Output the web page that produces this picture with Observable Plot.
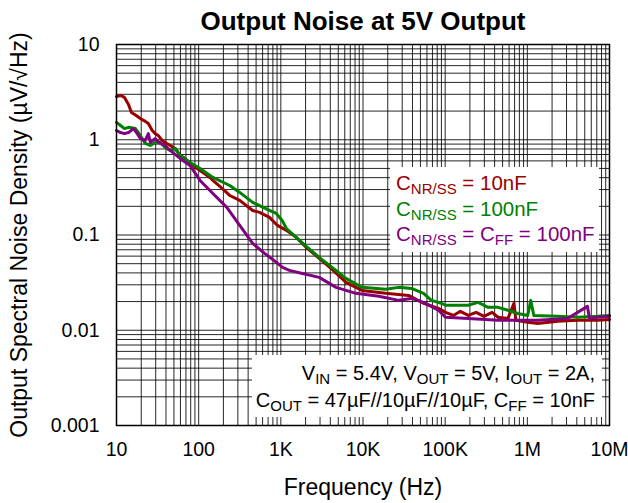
<!DOCTYPE html>
<html>
<head>
<meta charset="utf-8">
<script src="https://cdn.jsdelivr.net/npm/d3@7"></script>
<script src="https://cdn.jsdelivr.net/npm/@observablehq/plot@0.6"></script>
<style>
  html, body { margin: 0; padding: 0; background: #fff; }
  #wrap { position: relative; width: 628px; height: 503px; font-family: "Liberation Sans", Arial, sans-serif; }
  .box { position: absolute; background: #fff; font-family: "Liberation Sans", Arial, sans-serif; white-space: nowrap; }
  .box sub { font-size: 15px; vertical-align: -4px; line-height: 0; }
  #legend { left: 390px; top: 167px; height: 85px; padding: 3px 0 0 6px; box-sizing: border-box; width: 209px; font-size: 20.5px; line-height: 25.5px; }
  #note { left: 252px; top: 355px; width: 350px; height: 62px; padding: 5px 7px 0 0; box-sizing: border-box; text-align: right; font-size: 20px; line-height: 27px; color: #000; }
</style>
</head>
<body>
<div id="wrap"></div>
<script>
// ---- data ----
const redFreq = [10, 11.2, 12.5, 14, 15.2, 17.4, 19.5, 22.4, 24.4, 27.2, 29.6, 32.2, 36, 39.1, 45, 51.7, 59.4, 68.3, 78.5, 104, 137, 149, 181, 239, 316, 454, 551, 728, 910, 1170, 1540, 2040, 2930, 4210, 6210, 9700, 18900, 35900, 54500, 82800, 101000, 126000, 153000, 191000, 238000, 298000, 372000, 440000, 581000, 687000, 726000, 1.01e6, 1.34e6, 2.34e6, 4.08e6, 7.12e6, 1e7];
const redVal = [2.85, 2.92, 2.78, 2.35, 1.93, 1.80, 1.67, 1.56, 1.48, 1.25, 1.16, 1.11, 0.983, 0.937, 0.871, 0.810, 0.684, 0.637, 0.564, 0.476, 0.402, 0.374, 0.324, 0.260, 0.231, 0.181, 0.173, 0.153, 0.126, 0.112, 0.0944, 0.0741, 0.0568, 0.0436, 0.0318, 0.0262, 0.0244, 0.0232, 0.0192, 0.0170, 0.0154, 0.0143, 0.0158, 0.0143, 0.0154, 0.0140, 0.0154, 0.0137, 0.0133, 0.0192, 0.0127, 0.0121, 0.0118, 0.0124, 0.0127, 0.0127, 0.0130];

const greenFreq = [10, 11.2, 12.5, 14, 17, 19.5, 22.4, 25.8, 29.6, 34, 39.1, 45, 51.7, 59.4, 78.5, 104, 149, 239, 316, 454, 728, 870, 1050, 1170, 1540, 2040, 2930, 4210, 6210, 9700, 18900, 27200, 39000, 54500, 68100, 90000, 101000, 191000, 252000, 333000, 440000, 581000, 768000, 1.01e6, 1.1e6, 1.2e6, 2.34e6, 4.08e6, 7.12e6, 1e7];
const greenVal = [1.52, 1.41, 1.31, 1.35, 1.31, 1.11, 0.915, 0.871, 0.937, 0.937, 0.830, 0.772, 0.810, 0.684, 0.578, 0.500, 0.402, 0.331, 0.280, 0.220, 0.181, 0.170, 0.140, 0.117, 0.0944, 0.0759, 0.0582, 0.0457, 0.0350, 0.0282, 0.0269, 0.0282, 0.0275, 0.0244, 0.0206, 0.0192, 0.0183, 0.0183, 0.0196, 0.0174, 0.0174, 0.0162, 0.0150, 0.0143, 0.0206, 0.0143, 0.0140, 0.0137, 0.0140, 0.0143];

const purpleFreq = [10, 11.2, 12.5, 14, 16.1, 17.9, 19.5, 22.4, 24.4, 25.8, 29.6, 34, 39.1, 45, 59.4, 78.5, 104, 149, 220, 316, 454, 634, 885, 1050, 1270, 1830, 2930, 4700, 8210, 15600, 27200, 39000, 54500, 82800, 101000, 191000, 440000, 1.34e6, 3.09e6, 5.39e6, 5.7e6, 7.12e6, 1e7];
const purpleVal = [1.25, 1.19, 1.16, 1.19, 1.31, 1.16, 1.03, 0.983, 1.16, 0.937, 1.03, 0.915, 0.871, 0.772, 0.637, 0.537, 0.374, 0.273, 0.195, 0.126, 0.0817, 0.0641, 0.0516, 0.0457, 0.0425, 0.0395, 0.0359, 0.0282, 0.0244, 0.0227, 0.0206, 0.0216, 0.0196, 0.0162, 0.0137, 0.0133, 0.0127, 0.0127, 0.0133, 0.0178, 0.0133, 0.0137, 0.0140];

const seriesNames = ["CNR/SS = 10nF", "CNR/SS = 100nF", "CNR/SS = CFF = 100nF"];
const seriesColors = ["#990000", "#008000", "#800080"];

const xTicks = [10, 100, 1e3, 1e4, 1e5, 1e6, 1e7];
const xTickLabels = ["10", "100", "1K", "10K", "100K", "1M", "10M"];
const yTicks = [0.001, 0.01, 0.1, 1, 10];
const yTickLabels = ["0.001", "0.01", "0.1", "1", "10"];

const titleText = "Output Noise at 5V Output";
const xLabel = "Frequency (Hz)";
const yLabel = "Output Spectral Noise Density (µV/√Hz)";

// ---- build tables ----
function table(fs, vs, name) { return fs.map((f, i) => ({f, v: vs[i], name})); }
const data = [
  table(redFreq, redVal, seriesNames[0]),
  table(greenFreq, greenVal, seriesNames[1]),
  table(purpleFreq, purpleVal, seriesNames[2])
];

function nearestLabel(ticks, labels, d) {
  let best = 0;
  for (let i = 1; i < ticks.length; i++) {
    if (Math.abs(Math.log10(ticks[i]) - Math.log10(d)) < Math.abs(Math.log10(ticks[best]) - Math.log10(d))) best = i;
  }
  return labels[best];
}

// grid positions: 1..9 multiples of each decade
const xGrid = [];
for (let i = 0; i < xTicks.length - 1; i++) for (let k = 1; k < 10; k++) xGrid.push(xTicks[i] * k);
xGrid.push(xTicks[xTicks.length - 1]);
const yGrid = [];
for (let i = 0; i < yTicks.length - 1; i++) for (let k = 1; k < 10; k++) yGrid.push(yTicks[i] * k);
yGrid.push(yTicks[yTicks.length - 1]);

const chart = Plot.plot({
  width: 628,
  height: 503,
  marginLeft: 116,
  marginRight: 19,
  marginTop: 44,
  marginBottom: 78,
  style: {fontFamily: "'Liberation Sans', Arial, sans-serif", background: "#fff", color: "#000", overflow: "visible"},
  x: {type: "log", domain: [10, 1e7], axis: null},
  y: {type: "log", domain: [0.001, 10], axis: null},
  marks: [
    Plot.ruleX(xGrid, {stroke: "#000", strokeWidth: 1, strokeOpacity: 0.85}),
    Plot.ruleY(yGrid, {stroke: "#000", strokeWidth: 1, strokeOpacity: 0.85}),
    Plot.line(data[0], {x: "f", y: "v", stroke: seriesColors[0], strokeWidth: 3}),
    Plot.line(data[1], {x: "f", y: "v", stroke: seriesColors[1], strokeWidth: 3}),
    Plot.line(data[2], {x: "f", y: "v", stroke: seriesColors[2], strokeWidth: 3}),
    Plot.frame({stroke: "#000", strokeWidth: 1.5}),
    Plot.text(xTicks, {x: d => d, frameAnchor: "bottom", lineAnchor: "middle", dy: 24, text: d => nearestLabel(xTicks, xTickLabels, d), fontSize: 19.5}),
    Plot.text(yTicks, {y: d => d, frameAnchor: "left", textAnchor: "end", lineAnchor: "middle", dx: -17, text: d => nearestLabel(yTicks, yTickLabels, d), fontSize: 19.5}),
    Plot.text([xLabel], {frameAnchor: "bottom", lineAnchor: "middle", textAnchor: "middle", dy: 62, fontSize: 23}),
    Plot.text([yLabel], {frameAnchor: "left", lineAnchor: "middle", textAnchor: "middle", dx: -97, rotate: -90, fontSize: 23}),
    Plot.text([titleText], {frameAnchor: "top", lineAnchor: "middle", textAnchor: "middle", dy: -23, fontSize: 26, fontWeight: "bold"})
  ]
});

const wrap = document.getElementById("wrap");
wrap.appendChild(chart);

const legend = document.createElement("div");
legend.className = "box";
legend.id = "legend";
legend.innerHTML =
  `<div style="color:${seriesColors[0]}">C<sub>NR/SS</sub> = 10nF</div>` +
  `<div style="color:${seriesColors[1]}">C<sub>NR/SS</sub> = 100nF</div>` +
  `<div style="color:${seriesColors[2]}">C<sub>NR/SS</sub> = C<sub>FF</sub> = 100nF</div>`;
wrap.appendChild(legend);

const note = document.createElement("div");
note.className = "box";
note.id = "note";
note.innerHTML =
  `<div>V<sub>IN</sub> = 5.4V, V<sub>OUT</sub> = 5V, I<sub>OUT</sub> = 2A,</div>` +
  `<div>C<sub>OUT</sub> = 47µF//10µF//10µF, C<sub>FF</sub> = 10nF</div>`;
wrap.appendChild(note);
</script>
</body>
</html>
